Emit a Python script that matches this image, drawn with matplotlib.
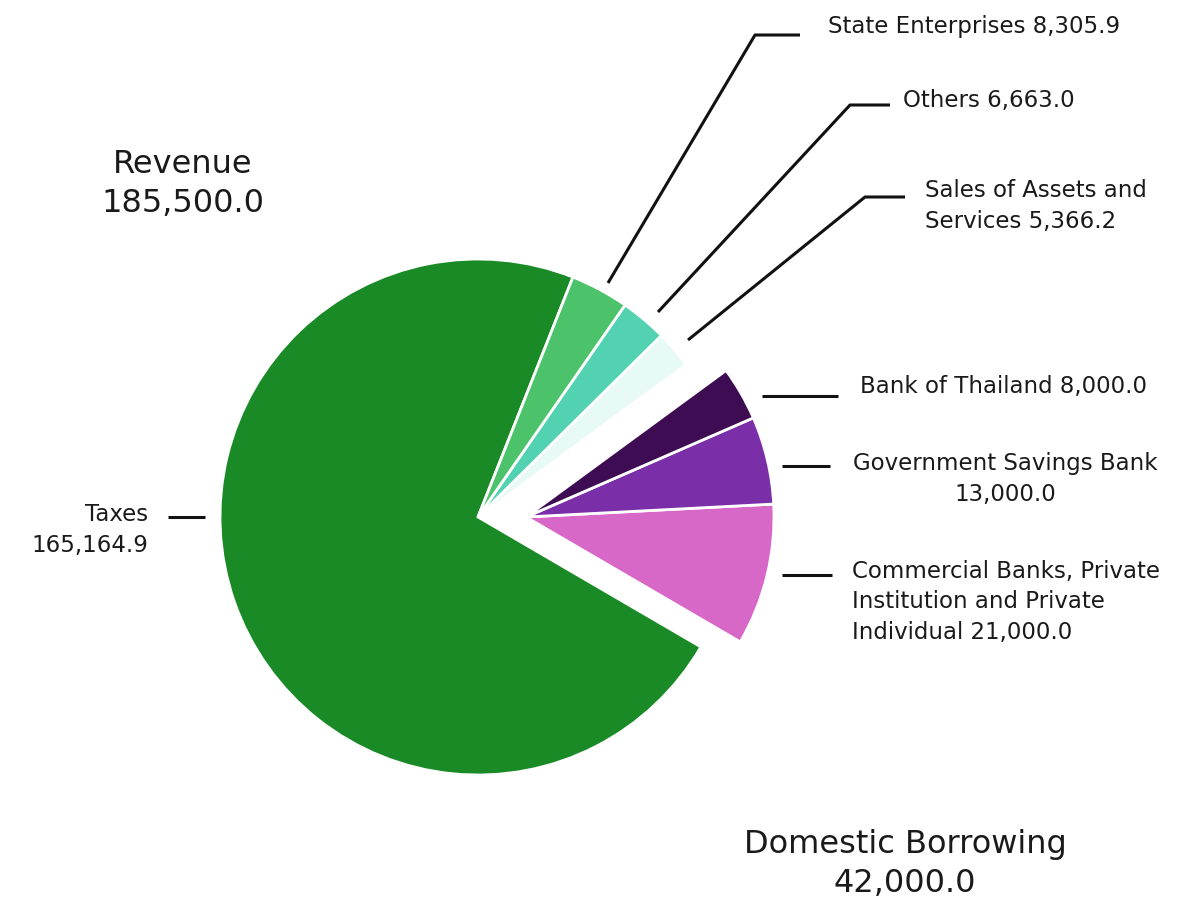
import numpy as np
import matplotlib.pyplot as plt

# Thai government budget financing (million baht)
labels = ['Taxes', 'Commercial Banks, Private Institution and Private Individual',
          'Government Savings Bank', 'Bank of Thailand',
          'Sales of Assets and Services', 'Others', 'State Enterprises']
values = [165164.9, 21000.0, 13000.0, 8000.0, 5366.2, 6663.0, 8305.9]
is_borrowing = [False, True, True, True, False, False, False]
colors = ['#1a8a26', '#d868c8', '#7a2ea8', '#3e0c52', '#e8faf6', '#52d2b0', '#4cc26a']

revenue_total = 185500.0
borrowing_total = 42000.0

H = 908
def Y(p):
    return H - p

fig = plt.figure(figsize=(11.8, 9.08), dpi=100)
ax = fig.add_axes([0, 0, 1, 1])
plt.rcParams['font.family'] = ['DejaVu Sans']

center = (478, Y(517))
radius = 258
shift = 48
start = 68.4

wedges, _ = ax.pie(values, colors=colors, startangle=start, counterclock=True,
                   center=center, radius=radius,
                   wedgeprops=dict(edgecolor='white', linewidth=2))
for w, b in zip(wedges, is_borrowing):
    if b:
        w.set_center((center[0] + shift, center[1]))
        w.set_radius(248)

ax.set_xlim(0, 1180)
ax.set_ylim(0, H)
ax.set_aspect('equal')
ax.axis('off')

lw = 2.2
lc = '#111111'
fs = 16.5
tc = '#1a1a1a'

# leader lines (pixel coords of the scan)
leaders = [
    [(608, 283), (755, 35), (800, 35)],
    [(658, 312), (850, 105), (890, 105)],
    [(688, 340), (865, 197), (905, 197)],
    [(762, 396), (838, 396)],
    [(782, 466), (830, 466)],
    [(782, 575), (832, 575)],
    [(168, 517), (205, 517)],
]
for pts in leaders:
    xs = [p[0] for p in pts]
    ys = [Y(p[1]) for p in pts]
    ax.plot(xs, ys, color=lc, lw=lw, solid_capstyle='butt')

def fmt(v):
    return f'{v:,.1f}'

ax.text(828, Y(27), f'State Enterprises {fmt(values[6])}', fontsize=fs, va='center', color=tc)
ax.text(903, Y(100), f'Others {fmt(values[5])}', fontsize=fs, va='center', color=tc)
ax.text(925, Y(206), f'Sales of Assets and\nServices {fmt(values[4])}', fontsize=fs,
        va='center', linespacing=1.45, color=tc)
ax.text(860, Y(386), f'Bank of Thailand {fmt(values[3])}', fontsize=fs, va='center', color=tc)
ax.text(1005, Y(479), f'Government Savings Bank\n{fmt(values[2])}', fontsize=fs,
        va='center', ha='center', linespacing=1.45, color=tc)
ax.text(852, Y(602), f'Commercial Banks, Private\nInstitution and Private\nIndividual {fmt(values[1])}',
        fontsize=fs, va='center', linespacing=1.4, color=tc)
ax.text(148, Y(530), f'Taxes\n{fmt(values[0])}', fontsize=fs, va='center', ha='right',
        multialignment='right', linespacing=1.45, color=tc)

ax.text(183, Y(184), f'Revenue\n{fmt(revenue_total)}', fontsize=23, va='center',
        ha='center', linespacing=1.3, color=tc)
ax.text(905, Y(864), f'Domestic Borrowing\n{fmt(borrowing_total)}', fontsize=23,
        va='center', ha='center', linespacing=1.3, color=tc)

fig.savefig('out.png', dpi=100)
